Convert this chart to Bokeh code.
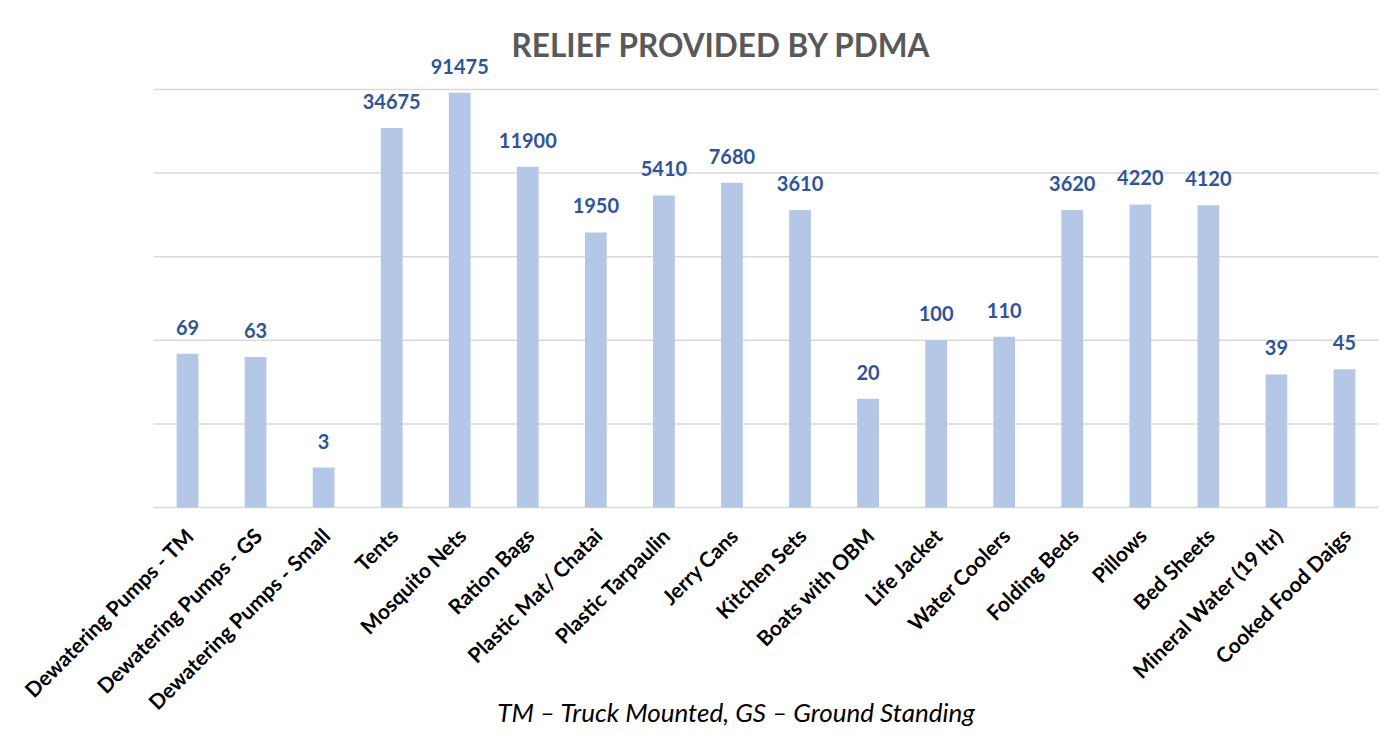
import math
from bokeh.plotting import figure
from bokeh.models import ColumnDataSource, Label, Range1d
from bokeh.core.properties import value
from bokeh.embed import file_html
from bokeh.resources import INLINE

categories = ["Dewatering Pumps - TM", "Dewatering Pumps - GS", "Dewatering Pumps - Small",
              "Tents", "Mosquito Nets", "Ration Bags", "Plastic Mat/ Chatai",
              "Plastic Tarpaulin", "Jerry Cans", "Kitchen Sets", "Boats with OBM",
              "Life Jacket", "Water Coolers", "Folding Beds", "Pillows", "Bed Sheets",
              "Mineral Water (19 ltr)", "Cooked Food Daigs"]
values = [69, 63, 3, 34675, 91475, 11900, 1950, 5410, 7680, 3610, 20, 100, 110,
          3620, 4220, 4120, 39, 45]
grid_ticks = [1, 10, 100, 1000, 10000, 100000]

W, H = 1383, 737
plot_left, plot_right = 153, 1378   # pixel extent of the category band
base_px = 507                       # pixel row of the value-1 baseline
decade_px = 83.6                    # pixels per decade on the log axis

n = len(categories)
cat_px = (plot_right - plot_left) / n
x_start = -plot_left / cat_px
x_end = n + (W - plot_right) / cat_px
y_start = 10 ** (-(H - base_px) / decade_px)
y_end = 10 ** (base_px / decade_px)

xpos = [i + 0.5 for i in range(n)]
src = ColumnDataSource(dict(x=xpos, cat=categories, val=values,
                            lab=[str(v) for v in values], base=[1] * n))
grid_src = ColumnDataSource(dict(y=grid_ticks, x0=[0] * len(grid_ticks),
                                 x1=[n] * len(grid_ticks)))

p = figure(x_range=Range1d(x_start, x_end), y_range=Range1d(y_start, y_end),
           y_axis_type="log", width=W, height=H, output_backend="svg",
           toolbar_location=None, min_border_left=0, min_border_right=0,
           min_border_top=0, min_border_bottom=0)
p.outline_line_color = None
p.background_fill_color = "white"
p.border_fill_color = "white"
p.xaxis.visible = False
p.yaxis.visible = False
p.xgrid.grid_line_color = None
p.ygrid.grid_line_color = None

# horizontal gridlines (the one at 1 is the category baseline)
p.segment(x0="x0", x1="x1", y0="y", y1="y", source=grid_src,
          line_color="#D9D9D9", line_width=1.5)

p.vbar(x="x", top="val", bottom="base", width=0.32, source=src,
       fill_color="#B4C7E7", line_color=None)
p.text(x="x", y="val", text="lab", source=src, text_align="center",
       text_baseline="bottom", y_offset=-19, text_font=value("Lato"),
       text_font_style="bold", text_font_size="20px", text_color="#2F5597")

# category labels, rotated 45 degrees, ending just below each bar
p.text(x="x", y="base", text="cat", source=src, angle=math.pi / 4,
       text_align="right", text_baseline="middle", x_offset=2, y_offset=24,
       text_font=value("Lato"), text_font_style="bold", text_font_size="21px",
       text_color="black")

title = Label(x=721, y=H - 44, x_units="screen", y_units="screen",
              text="RELIEF PROVIDED BY PDMA", text_align="center",
              text_baseline="middle", text_font="Lato", text_font_style="bold",
              text_font_size="31.5px", text_color="#595959")
p.add_layout(title)
foot = Label(x=736, y=H - 711, x_units="screen", y_units="screen",
             text="TM \u2013 Truck Mounted, GS \u2013 Ground Standing", text_align="center",
             text_baseline="middle", text_font="Lato", text_font_style="italic",
             text_font_size="26px", text_color="black")
p.add_layout(foot)

open("out.html", "w").write(file_html(p, INLINE))
